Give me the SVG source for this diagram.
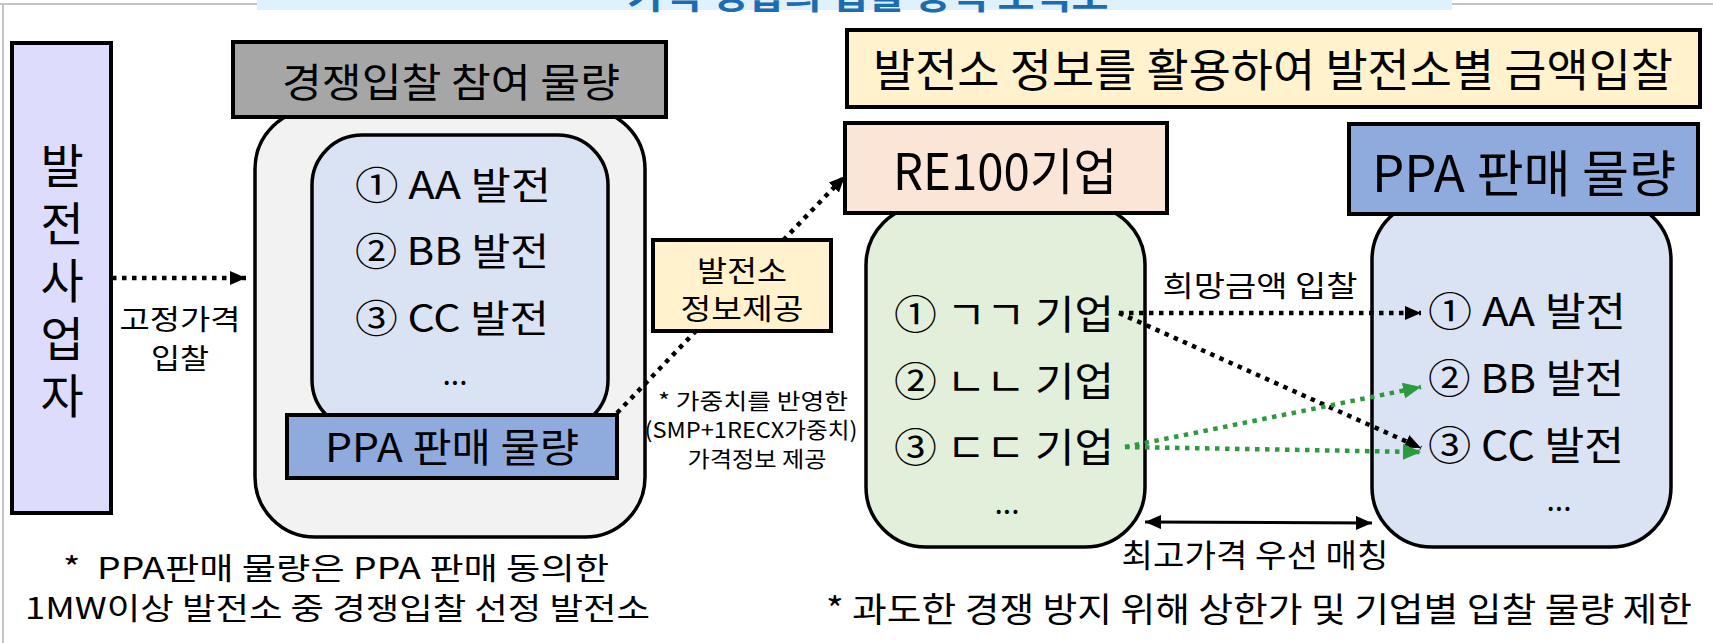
<svg xmlns="http://www.w3.org/2000/svg" width="1713" height="643" viewBox="0 0 1713 643">
<style>
text{font-family:"Noto Sans CJK KR","Noto Sans",sans-serif;fill:#000;}
.box{stroke:#000;stroke-width:4;}
.rbox{stroke:#000;stroke-width:3.5;}
.c{text-anchor:middle;}
.dot{fill:none;stroke:#000;stroke-width:4.5;stroke-dasharray:4.5 5.5;}
.gdot{fill:none;stroke:#2e9a3f;stroke-width:4.5;stroke-dasharray:4.5 5.5;}
.frame{stroke:#c4c4c4;stroke-width:2;fill:none;}
</style>
<defs>
<marker id="ah" markerUnits="userSpaceOnUse" markerWidth="17" markerHeight="15" refX="16" refY="7" orient="auto"><path d="M0,0 L16,7 L0,14 z" fill="#000"/></marker>
<marker id="ahg" markerUnits="userSpaceOnUse" markerWidth="19" markerHeight="17" refX="18" refY="8" orient="auto"><path d="M0,0 L18,8 L0,16 z" fill="#2e9a3f"/></marker>
<marker id="ahs" markerUnits="userSpaceOnUse" markerWidth="17" markerHeight="15" refX="16" refY="7" orient="auto-start-reverse"><path d="M0,0 L16,7 L0,14 z" fill="#000"/></marker>
</defs>
<rect width="1713" height="643" fill="#fff"/>
<g id="frame">
<path class="frame" d="M0,4 H257 M1452,4 H1713 M3,4 V643"/>
<rect x="257" y="0" width="1195" height="10" fill="#dff1fd"/>
<text x="868" y="9" class="c" font-size="34" font-weight="bold" style="fill:#1b6cb0" textLength="481" lengthAdjust="spacingAndGlyphs">가격 경합의 입찰 방식 도식도</text>
</g>
<g id="producer">
<rect class="box" x="12" y="43" width="99" height="470" fill="#dddcfd"/>
<text x="62" y="142" font-size="47" writing-mode="vertical-rl" letter-spacing="10.5" style="text-orientation:upright">발전사업자</text>
</g>
<g id="fixed-label">
<text class="c" font-size="28"><tspan x="180" y="330" textLength="121" lengthAdjust="spacingAndGlyphs">고정가격</tspan><tspan x="180" y="369" textLength="58" lengthAdjust="spacingAndGlyphs">입찰</tspan></text>
</g>
<g id="competitive">
<rect class="rbox" x="255" y="109" width="390" height="428" rx="60" fill="#f2f2f2"/>
<rect class="rbox" x="312" y="135" width="296" height="295" rx="50" fill="#dae3f3"/>
<rect class="box" x="233" y="42" width="433" height="75" fill="#a6a6a6"/>
<text class="c" x="451" y="97" font-size="40" textLength="338" lengthAdjust="spacingAndGlyphs">경쟁입찰 참여 물량</text>
<text x="355" y="199" font-size="38" textLength="196" lengthAdjust="spacingAndGlyphs">① AA 발전</text>
<text x="355" y="265" font-size="38" textLength="194" lengthAdjust="spacingAndGlyphs">② BB 발전</text>
<text x="355" y="332" font-size="38" textLength="194" lengthAdjust="spacingAndGlyphs">③ CC 발전</text>
<text class="c" x="455" y="385" font-size="30">...</text>
</g>
<g id="ppa-left">
<rect class="box" x="287" y="415" width="330" height="63" fill="#8faadc"/>
<text class="c" x="452" y="462" font-size="40" textLength="254" lengthAdjust="spacingAndGlyphs">PPA 판매 물량</text>
</g>
<g id="note-left">
<text font-size="30" xml:space="preserve"><tspan x="63" y="579" textLength="546" lengthAdjust="spacingAndGlyphs">*  PPA판매 물량은 PPA 판매 동의한</tspan><tspan x="25" y="619" textLength="625" lengthAdjust="spacingAndGlyphs">1MW이상 발전소 중 경쟁입찰 선정 발전소</tspan></text>
</g>
<g id="price-note">
<text class="c" font-size="22"><tspan x="753" y="409" textLength="190" lengthAdjust="spacingAndGlyphs">* 가중치를 반영한</tspan><tspan x="751" y="438" textLength="213" lengthAdjust="spacingAndGlyphs">(SMP+1RECX가중치)</tspan><tspan x="757" y="467" textLength="139" lengthAdjust="spacingAndGlyphs">가격정보 제공</tspan></text>
</g>
<g id="header-right">
<rect class="box" x="847" y="30" width="853" height="77" fill="#fff2cc"/>
<text class="c" x="1273" y="87" font-size="45" textLength="800" lengthAdjust="spacingAndGlyphs">발전소 정보를 활용하여 발전소별 금액입찰</text>
</g>
<g id="re100">
<rect class="rbox" x="866" y="205" width="279" height="342" rx="60" fill="#e2efda"/>
<rect class="box" x="845" y="123" width="322" height="90" fill="#fbe5d6"/>
<text class="c" x="1005" y="190" font-size="50" textLength="224" lengthAdjust="spacingAndGlyphs">RE100기업</text>
<text x="894" y="329" font-size="40" textLength="220" lengthAdjust="spacingAndGlyphs">① ㄱㄱ 기업</text>
<text x="894" y="396" font-size="40" textLength="220" lengthAdjust="spacingAndGlyphs">② ㄴㄴ 기업</text>
<text x="894" y="462" font-size="40" textLength="220" lengthAdjust="spacingAndGlyphs">③ ㄷㄷ 기업</text>
<text class="c" x="1007" y="514" font-size="30">...</text>
</g>
<g id="ppa-right">
<rect class="rbox" x="1372" y="200" width="299" height="347" rx="60" fill="#dae3f3"/>
<rect class="box" x="1349" y="124" width="349" height="90" fill="#8faadc"/>
<text class="c" x="1524" y="192" font-size="50" textLength="304" lengthAdjust="spacingAndGlyphs">PPA 판매 물량</text>
<text x="1428" y="326" font-size="40" textLength="198" lengthAdjust="spacingAndGlyphs">① AA 발전</text>
<text x="1428" y="393" font-size="40" textLength="196" lengthAdjust="spacingAndGlyphs">② BB 발전</text>
<text x="1428" y="460" font-size="40" textLength="196" lengthAdjust="spacingAndGlyphs">③ CC 발전</text>
<text class="c" x="1559" y="511" font-size="30">...</text>
</g>
<g id="labels">
<text class="c" x="1260" y="297" font-size="29" textLength="195" lengthAdjust="spacingAndGlyphs">희망금액 입찰</text>
<text class="c" x="1255" y="567" font-size="32" textLength="267" lengthAdjust="spacingAndGlyphs">최고가격 우선 매칭</text>
<text class="c" x="1259" y="622" font-size="34" textLength="866" lengthAdjust="spacingAndGlyphs">* 과도한 경쟁 방지 위해 상한가 및 기업별 입찰 물량 제한</text>
</g>
<g id="connectors">
<line class="dot" x1="112" y1="278" x2="246" y2="278" marker-end="url(#ah)"/>
<line class="dot" x1="617" y1="413" x2="845" y2="176" marker-end="url(#ah)"/>
<line class="dot" x1="1119" y1="313" x2="1421" y2="313" marker-end="url(#ah)"/>
<line class="dot" x1="1119" y1="313" x2="1421" y2="448" marker-end="url(#ah)"/>
<line class="gdot" x1="1125" y1="447" x2="1421" y2="387" marker-end="url(#ahg)"/>
<line class="gdot" x1="1125" y1="447" x2="1421" y2="452" marker-end="url(#ahg)"/>
<line x1="1145" y1="522" x2="1372" y2="523" stroke="#000" stroke-width="3" marker-start="url(#ahs)" marker-end="url(#ahs)"/>
</g>
<g id="info-box">
<rect class="box" x="653" y="240" width="178" height="91" fill="#fff2cc"/>
<text class="c" font-size="29"><tspan x="742" y="282" textLength="90" lengthAdjust="spacingAndGlyphs">발전소</tspan><tspan x="742" y="320" textLength="123" lengthAdjust="spacingAndGlyphs">정보제공</tspan></text>
</g>
</svg>
